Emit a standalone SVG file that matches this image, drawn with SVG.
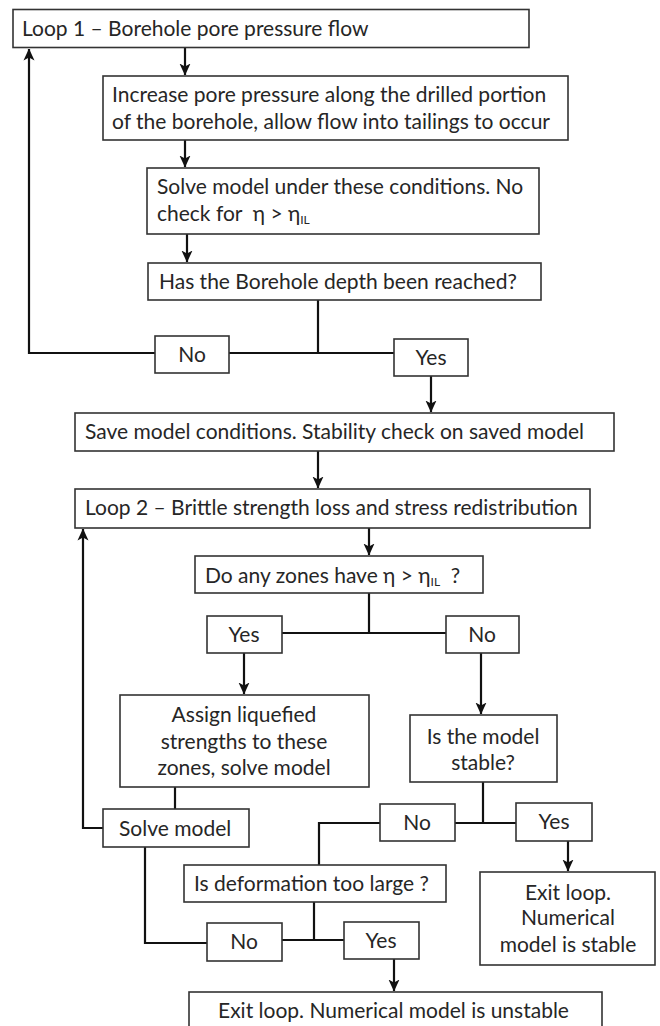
<svg xmlns="http://www.w3.org/2000/svg" width="660" height="1026" viewBox="0 0 660 1026">
<defs>
<marker id="arr" markerUnits="userSpaceOnUse" markerWidth="12" markerHeight="13" viewBox="0 0 12 13" refX="11.5" refY="6.5" orient="auto">
<path d="M0,1 L12,6.5 L0,12 L3,6.5 Z" fill="#111"/>
</marker>
<style>
.box{fill:#fff;stroke:#333;stroke-width:1.6}
.t{font-family:Lato,"Liberation Sans",sans-serif;font-size:21px;fill:#262626}
.c{text-anchor:middle}
.sub{font-size:12px}
.ln{fill:none;stroke:#111;stroke-width:2.2}
.ar{marker-end:url(#arr)}
</style>
</defs>
<rect width="660" height="1026" fill="#fff"/>
<g id="connectors">
<path class="ln ar" d="M185,48 V75"/>
<path class="ln ar" d="M185,140 V167"/>
<path class="ln ar" d="M187,234 V262"/>
<path class="ln" d="M318,300 V353"/>
<path class="ln ar" d="M155,353 H29 V49"/>
<path class="ln" d="M229,353 H394"/>
<path class="ln ar" d="M431,376 V412"/>
<path class="ln ar" d="M318,451 V488"/>
<path class="ln ar" d="M369,528 V555"/>
<path class="ln" d="M369,593 V633"/>
<path class="ln" d="M282,633 H446"/>
<path class="ln ar" d="M244,653 V694"/>
<path class="ln ar" d="M481,653 V714"/>
<path class="ln" d="M483,782 V823"/>
<path class="ln" d="M455,823 H516"/>
<path class="ln" d="M380,823 H319 V865"/>
<path class="ln ar" d="M568,841 V871"/>
<path class="ln" d="M175,787 V809"/>
<path class="ln ar" d="M103,828 H83 V529"/>
<path class="ln" d="M145,847 V943 H207"/>
<path class="ln" d="M314,902 V940"/>
<path class="ln" d="M282,940 H344"/>
<path class="ln ar" d="M394,959 V991"/>
</g>
<g id="loop1">
<rect class="box" x="13" y="9.5" width="516" height="38"/>
<text class="t" x="22" y="36">Loop 1 – Borehole pore pressure flow</text>
</g>
<g id="increase">
<rect class="box" x="103" y="76" width="465" height="64"/>
<text class="t" x="112" y="102">Increase pore pressure along the drilled portion</text>
<text class="t" x="112" y="129">of the borehole, allow flow into tailings to occur</text>
</g>
<g id="solve1">
<rect class="box" x="147" y="168" width="392" height="66"/>
<text class="t" x="157" y="194">Solve model under these conditions. No</text>
<text class="t" x="157" y="221">check for &#160;η &gt; η<tspan class="sub" dy="3">IL</tspan></text>
</g>
<g id="depth">
<rect class="box" x="148" y="263" width="393" height="37"/>
<text class="t" x="159" y="289">Has the Borehole depth been reached?</text>
</g>
<g id="no1">
<rect class="box" x="155" y="336" width="74" height="37"/>
<text class="t c" x="192" y="362">No</text>
</g>
<g id="yes1">
<rect class="box" x="394" y="339" width="74" height="37"/>
<text class="t c" x="431" y="365">Yes</text>
</g>
<g id="save">
<rect class="box" x="75" y="413" width="539" height="38"/>
<text class="t" x="85" y="439">Save model conditions. Stability check on saved model</text>
</g>
<g id="loop2">
<rect class="box" x="75" y="489" width="515" height="39"/>
<text class="t" x="85" y="515">Loop 2 – Brittle strength loss and stress redistribution</text>
</g>
<g id="zones">
<rect class="box" x="195" y="556" width="288" height="37"/>
<text class="t" x="205" y="583">Do any zones have η &gt; η<tspan class="sub" dy="3">IL</tspan><tspan dy="-3">&#160; ?</tspan></text>
</g>
<g id="yes2">
<rect class="box" x="207" y="616" width="75" height="37"/>
<text class="t c" x="244" y="642">Yes</text>
</g>
<g id="no2">
<rect class="box" x="446" y="616" width="73" height="37"/>
<text class="t c" x="482" y="642">No</text>
</g>
<g id="assign">
<rect class="box" x="120" y="695" width="249" height="92"/>
<text class="t c" x="244" y="722">Assign liquefied</text>
<text class="t c" x="244" y="749">strengths to these</text>
<text class="t c" x="244" y="775">zones, solve model</text>
</g>
<g id="stable">
<rect class="box" x="410" y="715" width="147" height="67"/>
<text class="t c" x="483" y="744">Is the model</text>
<text class="t c" x="483" y="770">stable?</text>
</g>
<g id="no3">
<rect class="box" x="380" y="804" width="75" height="37"/>
<text class="t c" x="417" y="830">No</text>
</g>
<g id="yes3">
<rect class="box" x="516" y="803" width="76" height="38"/>
<text class="t c" x="554" y="829">Yes</text>
</g>
<g id="solve2">
<rect class="box" x="103" y="809" width="146" height="38"/>
<text class="t" x="119" y="836">Solve model</text>
</g>
<g id="deform">
<rect class="box" x="184" y="865" width="262" height="37"/>
<text class="t" x="194" y="891">Is deformation too large ?</text>
</g>
<g id="exitstable">
<rect class="box" x="480" y="872" width="175" height="93"/>
<text class="t c" x="568" y="900">Exit loop.</text>
<text class="t c" x="568" y="925">Numerical</text>
<text class="t c" x="568" y="952">model is stable</text>
</g>
<g id="no4">
<rect class="box" x="207" y="923" width="75" height="38"/>
<text class="t c" x="244" y="949">No</text>
</g>
<g id="yes4">
<rect class="box" x="344" y="922" width="75" height="37"/>
<text class="t c" x="381" y="948">Yes</text>
</g>
<g id="exitunstable">
<rect class="box" x="189" y="992" width="413" height="40"/>
<text class="t" x="218" y="1018">Exit loop. Numerical model is unstable</text>
</g>
</svg>
